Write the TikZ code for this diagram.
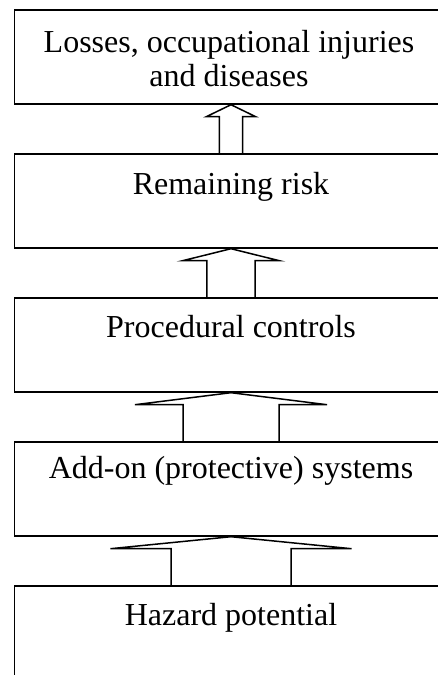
\documentclass[tikz,border=0pt]{standalone}
\usepackage{fontspec}
\setmainfont{Liberation Serif}
\usetikzlibrary{calc}
\begin{document}
\begin{tikzpicture}[x=1pt,y=-1pt,
  box/.style={draw, line width=1.7pt, rectangle, minimum width=433pt,
    minimum height=94pt, inner sep=0pt, anchor=north},
  lbl/.style={inner sep=0pt, anchor=base, align=center,
    font=\fontsize{32}{34}\selectfont},
  uparrow/.style={draw, line width=1.5pt, line join=miter}]
  \clip (0,0) rectangle (438,675);
  % stacked layers
  \node[box] (b1) at (231,9)   {};
  \node[box] (b2) at (231,153) {};
  \node[box] (b3) at (231,297) {};
  \node[box] (b4) at (231,441) {};
  \node[box] (b5) at (231,585) {};
  % layer captions (a two-line node sits on the baseline of its last line)
  \node[lbl] (t1) at (229,86)  {Losses, occupational injuries\\and diseases};
  \node[lbl] (t2) at (231,194) {Remaining risk};
  \node[lbl] (t3) at (231,337) {Procedural controls};
  \node[lbl] (t4) at (231,478) {Add-on (protective) systems};
  \node[lbl] (t5) at (231,625) {Hazard potential};
  % hollow block arrows, widening downwards
  \newcommand\blockarrow[4]{% lower box, upper box, shaft half width, head half width
    \draw[uparrow] ($(#1.north)+(-#3,0)$) -- ($(#2.south)+(-#3,12)$)
      -- ($(#2.south)+(-#4,12)$) -- (#2.south) -- ($(#2.south)+(#4,12)$)
      -- ($(#2.south)+(#3,12)$) -- ($(#1.north)+(#3,0)$);}
  \blockarrow{b2}{b1}{11.7}{24.7}
  \blockarrow{b3}{b2}{24.2}{48.3}
  \blockarrow{b4}{b3}{48}{96}
  \blockarrow{b5}{b4}{60}{120.5}
\end{tikzpicture}
\end{document}
